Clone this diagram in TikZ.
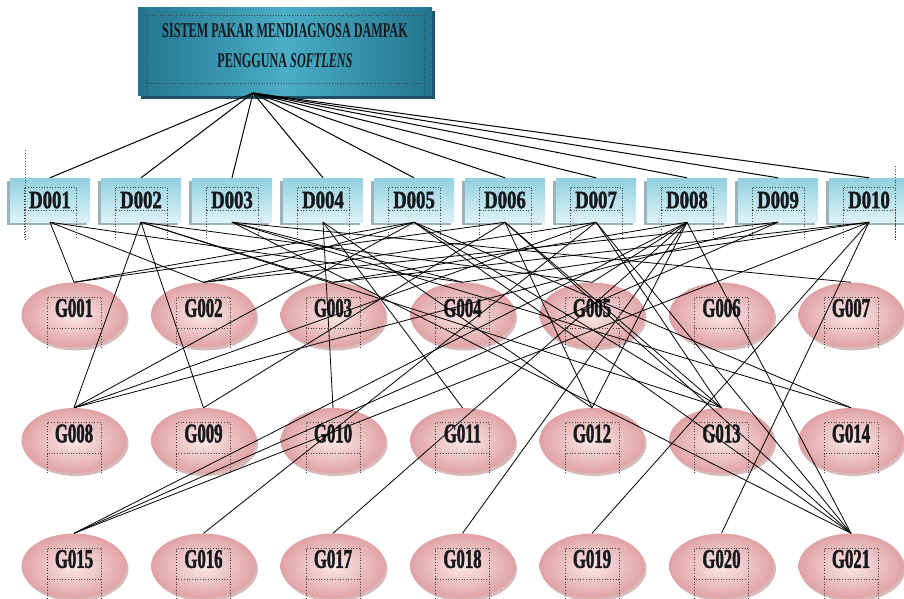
\documentclass[tikz,border=0pt]{standalone}
\usepackage{fontspec}
\setmainfont{Liberation Serif}
\newfontfamily\headerfont[FakeStretch=0.58]{Liberation Serif}
\newfontfamily\diseasefont[FakeStretch=0.75, BoldFeatures={FakeBold=1.5}]{Liberation Serif}
\newfontfamily\symptomfont[FakeStretch=0.62, BoldFeatures={FakeBold=1.5}]{Liberation Serif}
\usepackage{tikz}
\usetikzlibrary{shapes.geometric, shadows, calc}
\definecolor{tealdark}{HTML}{23758F}
\definecolor{teallight}{HTML}{4BADC6}
\definecolor{tealshadow}{HTML}{1B5366}
\definecolor{dtop}{HTML}{92D0DF}
\definecolor{dbottom}{HTML}{DDF2F7}
\definecolor{dshadow}{HTML}{9DB3BC}
\definecolor{pinkdark}{HTML}{E0A2A4}
\definecolor{pinklight}{HTML}{FBE8E8}
\definecolor{pinkshadow}{HTML}{CDA9AA}
\definecolor{inktext}{HTML}{16181C}

\begin{document}
\begin{tikzpicture}[x=1pt, y=-1pt,
    header/.style={rectangle, minimum width=294pt, minimum height=88pt, left color=tealdark, right color=tealdark, middle color=teallight, drop shadow={shadow xshift=3pt, shadow yshift=-3pt, fill=tealshadow, opacity=1}},
    htext/.style={align=center, font=\headerfont\bfseries\fontsize{21}{30}\selectfont, text=inktext, yshift=6pt},
    dbox/.style={rectangle, minimum width=80pt, minimum height=44pt, top color=dtop, bottom color=dbottom, drop shadow={shadow xshift=-3pt, shadow yshift=-3pt, fill=dshadow, opacity=1}, font=\diseasefont\bfseries\fontsize{25}{26}\selectfont, text=inktext},
    gsym/.style={ellipse, minimum width=105pt, minimum height=65pt, inner color=pinklight, outer color=pinkdark, drop shadow={shadow xshift=2pt, shadow yshift=-3pt, fill=pinkshadow, opacity=0.8}},
    gtext/.style={font=\symptomfont\bfseries\fontsize{27}{28}\selectfont, text=inktext, yshift=7pt},
    link/.style={black, line width=0.8pt},
    frame/.style={black!75, dotted, line width=0.7pt}
]
\useasboundingbox (0,0) rectangle (904,599);

% Title
\node[header, label={[htext]center:{SISTEM PAKAR MENDIAGNOSA DAMPAK\\PENGGUNA \textit{SOFTLENS}}}] (title) at (285,52) {};
\coordinate (hub) at (253,93);

% Diseases
\foreach \i in {1,...,10} {
    \node[dbox] (D\i) at ({50+91*(\i-1)},200) {D0\ifnum\i<10 0\fi\i};
}

% Symptoms
\foreach \i in {1,...,21} {
    \pgfmathtruncatemacro{\symrow}{(\i-1)/7}
    \pgfmathtruncatemacro{\symcol}{\i-1-7*\symrow}
    \node[gsym, label={[gtext]center:G0\ifnum\i<10 0\fi\i}] (G\i) at ({74+129.5*\symcol},{315+125.5*\symrow}) {};
}

% Title to diseases
\foreach \i in {1,...,10} \draw[link, line width=1pt] (hub) -- (D\i.north);

% Diseases to symptoms
\foreach \d/\glist in {1/{1,2,4}, 2/{3,5,8,9,13}, 3/{4,7,14,21}, 4/{10,11,12},
    5/{1,2,8,13,14,21}, 6/{1,9,12,13,21}, 7/{2,8,13,16,21},
    8/{3,5,12,15,17,18,21}, 9/{2,8,15}, 10/{3,4,15,19,20}}
    \foreach \g in \glist \draw[link] (D\d.south) -- (G\g.north);

% Dotted text frames
\draw[frame] (146,15) rectangle (424,83);
\draw[frame] (146,83) -- (146,98) (424,83) -- (424,98);
\draw[frame] (25,150) -- (25,240) (895,166) -- (895,240);
\foreach \i in {1,...,10} {
    \draw[frame] ($(D\i.center)+(-26,10)$) rectangle ($(D\i.center)+(26,-13)$);
    \draw[frame] ($(D\i.center)+(-26,10)$) -- +(0,28) ($(D\i.center)+(26,10)$) -- +(0,28);
}
\foreach \i in {1,...,21} {
    \draw[frame] ($(G\i.center)+(-27,13)$) rectangle ($(G\i.center)+(27,-18)$);
    \draw[frame] ($(G\i.center)+(-27,13)$) -- +(0,21) ($(G\i.center)+(27,13)$) -- +(0,21);
}

\end{tikzpicture}
\end{document}
